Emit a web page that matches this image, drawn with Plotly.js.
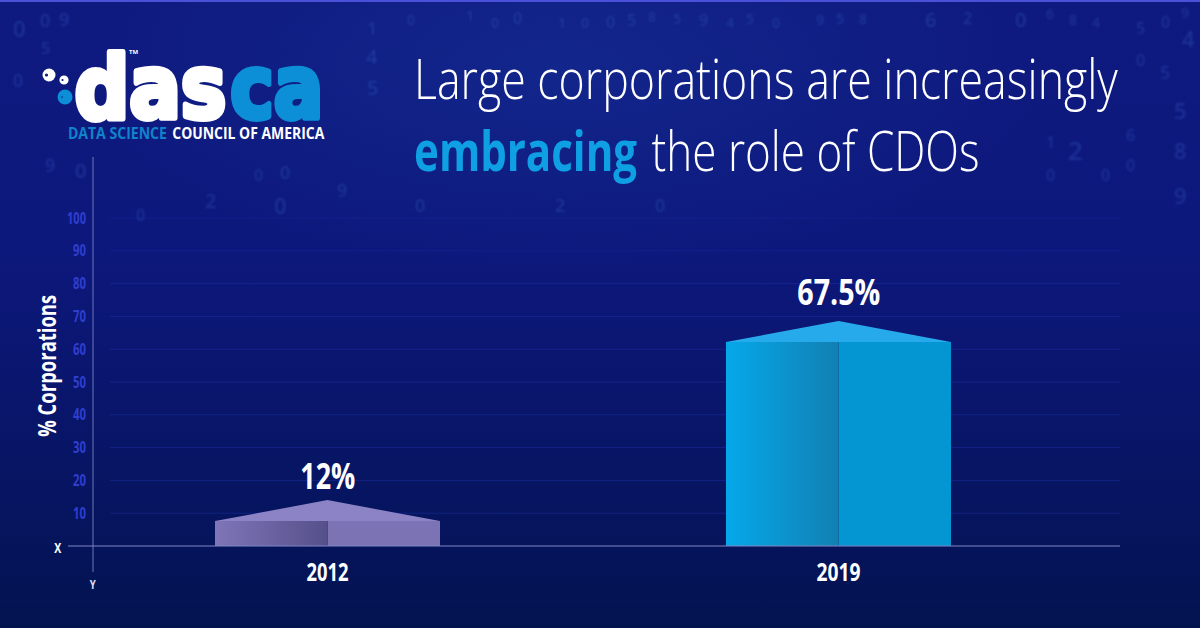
<!DOCTYPE html>
<html><head><meta charset="utf-8">
<script src="https://cdn.plot.ly/plotly-3.0.1.min.js"></script>
<style>
html,body{margin:0;padding:0;width:1200px;height:628px;overflow:hidden;
background:radial-gradient(ellipse 480px 200px at 560px 70px,rgba(24,58,160,.38),rgba(24,58,160,0)),linear-gradient(180deg,#0f1a80 0%,#0d187c 40%,#071564 75%,#031350 100%);}
#chart{width:1200px;height:628px}
</style></head><body><div id="chart"></div>
<script>
// ---- data ----
const years = ['2012','2019'];
const valueLabels = ['12%','67.5%'];
const frontHeights = [7.6,62.2];
const peakHeights = [14,68.6];
const yTicks = [10,20,30,40,50,60,70,80,90,100];
const titleLine1 = 'Large corporations are increasingly';
const titleEmphasis = 'embracing';
const titleRest = 'the role of CDOs';
const yTitle = '% Corporations';
const digits = [
['0',19,28,22],['0',45,20,18],['9',64,19,18],['0',83,30,20],['5',145,24,22],['2',180,20,26],['4',212,20,24],['0',313,20,26],['5',285,32,18],['0',260,33,20],['4',343,33,24],
['5',45,48,16],['2',52,62,14],['6',63,42,14],['0',120,43,16],['4',180,58,26],['5',212,52,22],['0',285,58,16],['5',313,60,22],['5',342,72,24],['1',372,28,18],['4',372,57,20],['5',372,88,20],['0',18,80,18],['9',18,105,18],['8',342,152,24],['5',342,112,22],['0',180,165,30],['2',212,165,22],['0',80,170,20],['9',50,165,18],['0',258,175,16],['0',285,172,18],['9',342,190,18],
['0',411,20,14],['1',470,15,14],['0',495,22,14],['0',517,18,16],['1',562,22,14],['0',585,22,14],['0',610,22,16],['5',631,20,16],['8',652,16,14],['5',677,18,14],['9',703,20,16],['4',730,22,14],['5',750,18,14],['0',776,23,14],
['9',820,20,14],['5',840,18,14],['8',863,18,14],['6',930,20,20],['2',967,18,16],['0',1020,20,20],['6',1050,14,14],['8',1073,20,14],['4',1096,22,14],['5',1140,28,16],['0',1165,22,16],['4',1188,38,22],['9',1185,12,14],
['0',1140,60,16],['5',1165,72,18],['5',1180,110,22],['8',1180,150,22],['2',1075,150,26],['1',1050,142,16],['0',1050,175,16],['0',1105,175,16],['6',1130,135,16],['0',1130,165,16],
['0',140,215,16],['2',210,200,20],['0',280,205,22],['0',420,205,18],['2',560,205,18],['0',610,205,22],['0',660,205,18],['0',880,205,22],['2',1000,200,16],['9',1180,195,22]
];
// ---- frame ----
const W=1200,H=628,L=93,R=1120,T=157,B=553,catPx=511,cat0=327.5,unitPx=3.28,zeroPx=546;
const halfWidth=112.5/catPx;
const X=p=>(p-L)/(R-L), Y=p=>(B-p)/(B-T);
const xs=years.map((_,i)=>i);
const traces=[];
const sets=[
 {left:['#7f75b8','#55508a'],right:'#7b73b3',roof:'#8c83c7'},
 {left:['#05a8ea','#1280b2'],right:'#0495d3',roof:'#27aaec'}];
xs.forEach(i=>{
 traces.push({type:'scatter',mode:'lines',line:{width:0},hoverinfo:'skip',showlegend:false,
   x:[i-halfWidth,i,i,i-halfWidth,i-halfWidth],y:[0,0,frontHeights[i],frontHeights[i],0],fill:'toself',
   fillgradient:{type:'horizontal',colorscale:[[0,sets[i].left[0]],[1,sets[i].left[1]]]}});
 traces.push({type:'scatter',mode:'lines',line:{width:0},hoverinfo:'skip',showlegend:false,
   x:[i-halfWidth,i,i+halfWidth,i-halfWidth],y:[frontHeights[i],peakHeights[i],frontHeights[i],frontHeights[i]],fill:'toself',fillcolor:sets[i].roof});
});
traces.push({type:'bar',x:xs,y:frontHeights,width:xs.map(()=>halfWidth),offset:0,
  marker:{color:sets.map(s=>s.right),line:{width:0}},hoverinfo:'skip',showlegend:false});

const sans='"Open Sans",sans-serif';
const anns=[],fits={},strokes={},blurred=[];
const pxAnn=(text,x,y,size,color,o={})=>{
  if(o.w) fits[anns.length]=o.w;
  if(o.stroke) strokes[anns.length]=o.stroke;
  if(o.blur) blurred.push(anns.length);
  anns.push(Object.assign({xref:'paper',yref:'paper',x:X(x),y:Y(y),text,showarrow:false,xanchor:o.anchor||'center',yanchor:'middle',
   font:{family:o.family||sans,size,color,weight:o.weight||400}},o.extra||{}));
};
// faint background digits: keep clear of the title lines, the logo and of each other
const blocked=[[410,40,1122,124],[410,118,1020,190],[60,35,335,150],[25,220,60,440]];
const placed=[];
digits.forEach(d=>{
  const w=d[3]*0.4,h=d[3]*0.72,box=[d[1]-w,d[2]-h,d[1]+w,d[2]+h];
  const hit=r=>box[0]<r[2]&&box[2]>r[0]&&box[1]<r[3]&&box[3]>r[1];
  if(blocked.some(hit)||placed.some(hit)||box[1]<1) return;
  placed.push(box);
  pxAnn(d[0],d[1],d[2],d[3],'rgba(70,125,225,0.24)',{weight:600,blur:true});
});
// title, second line
pxAnn(titleEmphasis,525.5,149,56,'#0f9fe3',{weight:700,w:223});
pxAnn(titleRest,815,149,56,'#fff',{weight:300,w:328});
// value labels
xs.forEach(i=>{ fits[anns.length]=[55,83][i];
 anns.push({xref:'x',yref:'y',x:i,y:peakHeights[i],yshift:[25,29.5][i],text:valueLabels[i],showarrow:false,xanchor:'center',yanchor:'middle',
   font:{family:sans,size:35,color:'#fff',weight:700}});});
pxAnn('X',58,547,14,'#fff',{weight:700,w:7});
pxAnn('Y',93,584,12,'#dfe3f5',{weight:700,w:6});
pxAnn(yTitle,46,366,25,'#fff',{weight:700,w:142,extra:{textangle:-90}});
// logo
const heavy='"DejaVu Sans",sans-serif';
pxAnn('das',150,87,88,'#fff',{family:heavy,weight:700,w:152,stroke:['#fff',6]});
pxAnn('ca',276.5,87,88,'#0c8fd6',{family:heavy,weight:700,w:93,stroke:['#0c8fd6',6]});
pxAnn('TM',133,52,6,'#fff',{weight:700});
pxAnn('DATA SCIENCE',117.5,133,16,'#0f83cc',{weight:700,w:99});
pxAnn('COUNCIL OF AMERICA',249,133,16,'#fff',{weight:700,w:152});

const circle=(x,y,r,c)=>({type:'circle',xref:'paper',yref:'paper',x0:X(x-r),x1:X(x+r),y0:Y(y+r),y1:Y(y-r),fillcolor:c,line:{width:0}});
const line=(x0,y0,x1,y1,c,w)=>({type:'line',xref:'paper',yref:'paper',x0:X(x0),x1:X(x1),y0:Y(y0),y1:Y(y1),line:{color:c,width:w}});
const shapes=[
 line(0,1,1200,1,'#4a50d8',2),
 line(93,157,93,572,'#6f76b6',1),
 line(68,546,1120,546,'#8087c4',1),
 circle(49,75,6.5,'#fff'),circle(46.5,75,1.6,'#12206e'),circle(64,80,4.6,'#fff'),circle(62.5,80,1.1,'#12206e'),circle(65,97,7.5,'#0c8fd6'),circle(62,97,1.2,'#0a5fa8')];
yTicks.forEach(v=>shapes.push({type:'line',xref:'paper',yref:'y',x0:X(110),x1:1,y0:v,y1:v,layer:'below',line:{color:'rgba(38,58,190,'+(v>=90?0.22:0.38)+')',width:1}}));

const layout={
 width:W,height:H,paper_bgcolor:'rgba(0,0,0,0)',plot_bgcolor:'rgba(0,0,0,0)',showlegend:false,
 margin:{l:L,r:W-R,t:T,b:H-B,pad:0},hovermode:false,
 title:{text:titleLine1,x:414/W,xanchor:'left',xref:'container',y:1-79/H,yanchor:'middle',
   font:{family:sans,size:56,color:'#fff',weight:300}},
 xaxis:{range:[(L-cat0)/catPx,(R-cat0)/catPx],tickmode:'array',tickvals:xs,ticktext:years,showgrid:false,zeroline:false,showline:false,ticks:'',
   tickfont:{family:sans,size:25,color:'#fff',weight:700},ticklabelstandoff:2},
 yaxis:{range:[(zeroPx-B)/unitPx,(zeroPx-T)/unitPx],tickmode:'array',tickvals:yTicks,showgrid:false,zeroline:false,showline:false,ticks:'',
   tickfont:{family:sans,size:16,color:'#2f3ed0',weight:700},ticklabelstandoff:6},
 shapes,annotations:anns,barmode:'overlay'
};
const fit=(el,w)=>{el.setAttribute('textLength',w);el.setAttribute('lengthAdjust','spacingAndGlyphs');};
Plotly.newPlot('chart',traces,layout,{displayModeBar:false,staticPlot:true}).then(gd=>{
  Object.keys(fits).forEach(i=>{const t=gd.querySelector('.annotation[data-index="'+i+'"] text');if(t)fit(t,fits[i]);});
  Object.keys(strokes).forEach(i=>{const t=gd.querySelector('.annotation[data-index="'+i+'"] text');
    if(t){t.style.stroke=strokes[i][0];t.style.strokeWidth=strokes[i][1]+'px';t.style.strokeLinejoin='round';}});
  blurred.forEach(i=>{const t=gd.querySelector('.annotation[data-index="'+i+'"] text');if(t)t.style.filter='blur(0.8px)';});
  const g=gd.querySelector('.gtitle');
  if(g){const x=parseFloat(g.getAttribute('x')),sx=704/g.getComputedTextLength(),old=g.getAttribute('transform')||'';
    g.setAttribute('transform',old+' translate('+x+',0) scale('+sx+',1) translate('+(-x)+',0)');}
  gd.querySelectorAll('.xtick text').forEach((t,i)=>fit(t,[42,44][i]));
  gd.querySelectorAll('.ytick text').forEach(t=>fit(t,t.textContent.length>2?19:13));
});
</script></body></html>
